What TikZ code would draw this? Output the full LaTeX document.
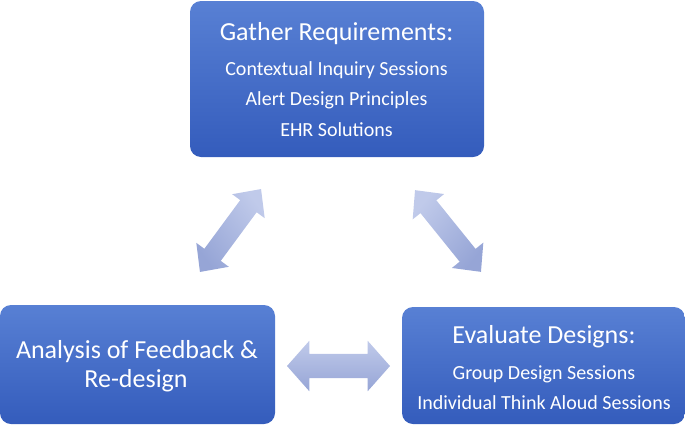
\documentclass[tikz,border=0pt]{standalone}
\usepackage{fontspec}
\setmainfont{Carlito}
\usetikzlibrary{shapes.arrows}

\definecolor{boxtop}{RGB}{88,128,212}
\definecolor{boxbot}{RGB}{52,92,188}
\definecolor{arrtop}{RGB}{192,202,234}
\definecolor{arrbot}{RGB}{150,165,214}

\tikzset{
  stagebox/.style={rounded corners=11pt, top color=boxtop, bottom color=boxbot,
    draw=none, inner sep=0pt},
  headtext/.style={text=white, anchor=base, inner sep=0pt, font=\fontsize{26}{31}\selectfont},
  itemtext/.style={text=white, anchor=base, inner sep=0pt, font=\fontsize{20}{24}\selectfont},
  twoway/.style={double arrow, draw=none, inner xsep=0pt,
    top color=arrtop, bottom color=arrbot}
}

\begin{document}
\begin{tikzpicture}[x=1pt,y=-1pt]
\useasboundingbox (0,0) rectangle (685,426);

% the three stages
\node[stagebox, minimum width=294pt, minimum height=156pt] (gather) at (337,79) {};
\node[stagebox, minimum width=275pt, minimum height=119pt] (analysis) at (137.5,364.5) {};
\node[stagebox, minimum width=283pt, minimum height=117pt] (evaluate) at (543.5,365.5) {};

% texts
\node[headtext] (gatherhead) at (336.5,40) {Gather Requirements:};
\node[itemtext] (gatherone) at (336.5,75) {Contextual Inquiry Sessions};
\node[itemtext] (gathertwo) at (336.5,105.5) {Alert Design Principles};
\node[itemtext] (gatherthree) at (336.5,136) {EHR Solutions};

\node[headtext] (analysishead) at (137,358) {Analysis of Feedback \&};
\node[headtext] (analysistail) at (136,387) {Re-design};

\node[headtext] (evaluatehead) at (544,343) {Evaluate Designs:};
\node[itemtext] (evaluateone) at (544,379) {Group Design Sessions};
\node[itemtext] (evaluatetwo) at (544,409) {Individual Think Aloud Sessions};

% two-way arrows between stages
\node[twoway, minimum height=103pt, inner ysep=10pt, double arrow head extend=10pt,
  double arrow tip angle=87, rotate=53.6, shading angle=-53.6] (gatheranalysis) at (230.5,230.5) {};
\node[twoway, minimum height=105pt, inner ysep=10pt, double arrow head extend=10pt,
  double arrow tip angle=87, rotate=-51.1, shading angle=51.1] (gatherevaluate) at (448,231) {};
\node[twoway, minimum height=103pt, inner ysep=12pt, double arrow head extend=13pt,
  double arrow tip angle=97] (analysisevaluate) at (338.5,366) {};
\end{tikzpicture}
\end{document}
